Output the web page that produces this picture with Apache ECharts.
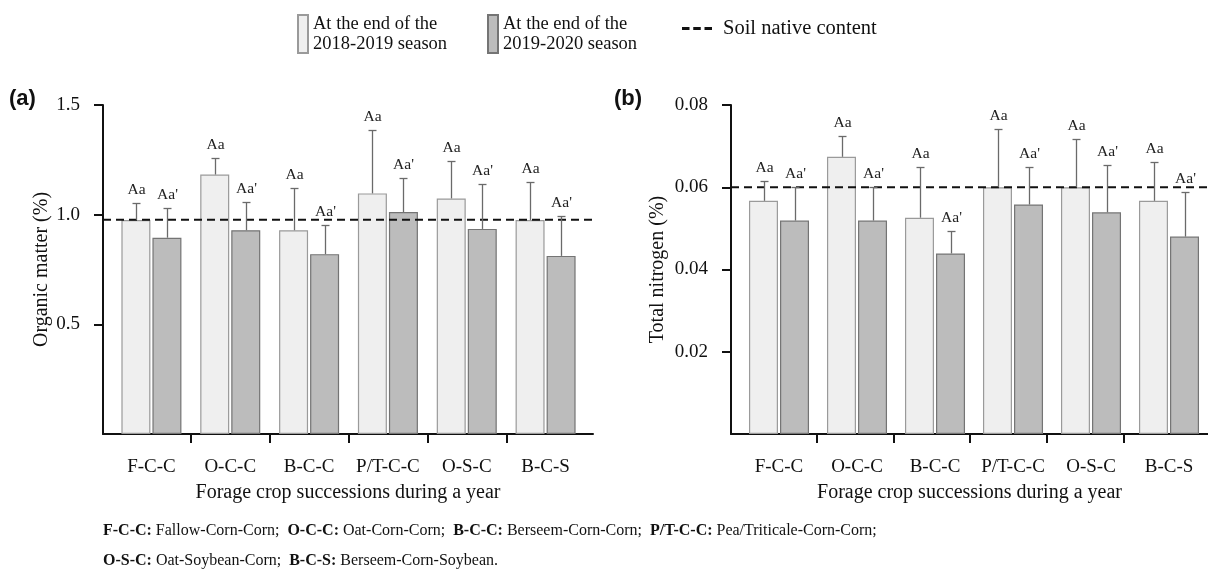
<!DOCTYPE html>
<html><head><meta charset="utf-8">
<script src="https://cdn.jsdelivr.net/npm/echarts@6/dist/echarts.min.js"></script>
<style>html,body{margin:0;padding:0;background:#fff}#c{width:1208px;height:580px}</style>
</head><body><div id="c"></div>
<script>
// ---------- data ----------
const categories = ['F-C-C', 'O-C-C', 'B-C-C', 'P/T-C-C', 'O-S-C', 'B-C-S'];
const seasonNames = ['At the end of the\n2018-2019 season', 'At the end of the\n2019-2020 season'];
const nativeName = 'Soil native content';

// (a) Organic matter (%)
const omSeason1 = [0.976, 1.183, 0.929, 1.097, 1.074, 0.976];
const omSeason1Err = [0.077, 0.076, 0.192, 0.291, 0.170, 0.173];
const omSeason2 = [0.895, 0.929, 0.820, 1.012, 0.935, 0.812];
const omSeason2Err = [0.135, 0.127, 0.133, 0.155, 0.204, 0.182];
const omNative = 0.977;
const omTicks = [0.5, 1.0, 1.5];

// (b) Total nitrogen (%)
const tnSeason1 = [0.0567, 0.0674, 0.0526, 0.0600, 0.0600, 0.0567];
const tnSeason1Err = [0.0047, 0.0051, 0.0124, 0.0141, 0.0117, 0.0094];
const tnSeason2 = [0.0519, 0.0519, 0.0439, 0.0558, 0.0539, 0.0480];
const tnSeason2Err = [0.0081, 0.0081, 0.0054, 0.0091, 0.0115, 0.0108];
const tnNative = 0.060;
const tnTicks = [0.02, 0.04, 0.06, 0.08];

const lettersSeason1 = ['Aa', 'Aa', 'Aa', 'Aa', 'Aa', 'Aa'];
const lettersSeason2 = ["Aa'", "Aa'", "Aa'", "Aa'", "Aa'", "Aa'"];

// ---------- styles ----------
const SERIF = '"Liberation Serif", "Times New Roman", serif';
const SANS = '"Liberation Sans", Arial, sans-serif';
const LIGHT = '#efefef', LIGHT_B = '#9a9a9a';
const DARK = '#bcbcbc', DARK_B = '#747474';
const BAR_W = 29, HALF = 15.5;
const xRange = [-0.115, 6.1]; // frame axis extent in category units

const chart = echarts.init(document.getElementById('c'), null, {renderer: 'canvas'});

function frameX(gridIndex, name) {
  return {
    type: 'value', gridIndex, min: xRange[0], max: xRange[1],
    name, nameLocation: 'middle', nameGap: 49,
    nameTextStyle: {fontFamily: SERIF, fontSize: 20, color: '#111'},
    axisLine: {show: true, onZero: false, lineStyle: {color: '#111', width: 2}},
    axisTick: {show: true, customValues: [1, 2, 3, 4, 5], length: 9, lineStyle: {color: '#111', width: 2}},
    axisLabel: {show: false}, splitLine: {show: false}
  };
}
function catX(gridIndex) {
  return {
    type: 'category', gridIndex, data: categories,
    axisLine: {show: false}, axisTick: {show: false},
    axisLabel: {fontFamily: SERIF, fontSize: 19, color: '#111', margin: 24, interval: 0}
  };
}
function frameY(gridIndex, max, ticks, dec, name, gap) {
  return {
    type: 'value', gridIndex, min: 0, max,
    name, nameLocation: 'middle', nameGap: gap, nameRotate: 90,
    nameTextStyle: {fontFamily: SERIF, fontSize: 20, color: '#111'},
    axisLine: {show: true, onZero: false, lineStyle: {color: '#111', width: 2}},
    axisTick: {show: true, customValues: ticks, length: 9, lineStyle: {color: '#111', width: 2}},
    axisLabel: {customValues: ticks, formatter: v => v.toFixed(dec), fontFamily: SERIF, fontSize: 19, color: '#111', margin: 23},
    splitLine: {show: false}
  };
}
function hiddenY(gridIndex, max) {
  return {type: 'value', gridIndex, min: 0, max, show: false, splitLine: {show: false}};
}
function bars(name, xi, yi, vals, color, border) {
  return {
    type: 'bar', name, xAxisIndex: xi, yAxisIndex: yi, data: vals,
    barWidth: BAR_W, barGap: '7%',
    itemStyle: {color, borderColor: border, borderWidth: 1.2},
    emphasis: {disabled: true}, z: 2
  };
}
function errs(xi, yi, vals, e, labels, side) {
  return {
    type: 'custom', name: 'err' + xi + side, xAxisIndex: xi, yAxisIndex: yi, z: 6,
    data: vals.map((v, i) => [i, v, e[i]]),
    renderItem(params, api) {
      const i = api.value(0), v = api.value(1), d = api.value(2);
      const b = api.coord([i, v]);
      const t = api.coord([i, v + d]);
      const x = Math.round(b[0] + side * HALF) + 0.5;
      const ty = Math.round(t[1]) + 0.5;
      const st = {stroke: '#6a6a6a', lineWidth: 1.3};
      return {type: 'group', children: [
        {type: 'line', shape: {x1: x, y1: b[1], x2: x, y2: ty}, style: st},
        {type: 'line', shape: {x1: x - 4, y1: ty, x2: x + 4, y2: ty}, style: st},
        {type: 'text', style: {text: labels[params.dataIndex], x: x, y: ty - 6, align: 'center', verticalAlign: 'bottom',
          font: '15.5px ' + SERIF, fill: '#222'}}
      ]};
    }
  };
}
function nativeLine(xi, yi, v) {
  return {
    type: 'line', name: nativeName, xAxisIndex: xi, yAxisIndex: yi,
    data: [[xRange[0], v], [xRange[1], v]], symbol: 'none', z: 5,
    lineStyle: {color: '#111', width: 2, type: [8, 5]}, itemStyle: {color: '#111'},
    emphasis: {disabled: true}
  };
}

const legendText = {fontFamily: SERIF, fontSize: 18.5, color: '#111', lineHeight: 20};
const option = {
  animation: false,
  backgroundColor: '#fff',
  legend: [
    {data: [seasonNames[0]], left: 297, top: 14, padding: 0, icon: 'rect', itemWidth: 10, itemHeight: 38, textStyle: legendText, selectedMode: false},
    {data: [seasonNames[1]], left: 487, top: 14, padding: 0, icon: 'rect', itemWidth: 10, itemHeight: 38, textStyle: legendText, selectedMode: false},
    {data: [{name: nativeName, icon: 'path://M0,0h8v3h-8z M12,0h8v3h-8z M24,0h8v3h-8z'}], left: 682, top: 18, padding: 0,
      itemWidth: 30, itemHeight: 3, textStyle: {fontFamily: SERIF, fontSize: 20.5, color: '#111', padding: [0, 0, 0, 6]}, selectedMode: false}
  ],
  grid: [
    {left: 112, right: 623, top: 105, bottom: 146},
    {left: 103, right: 615, top: 105, bottom: 146},
    {left: 740, right: -5, top: 105, bottom: 146},
    {left: 731, right: -13, top: 105, bottom: 146}
  ],
  xAxis: [
    catX(0),
    frameX(1, 'Forage crop successions during a year'),
    catX(2),
    frameX(3, 'Forage crop successions during a year')
  ],
  yAxis: [
    hiddenY(0, 1.5),
    frameY(1, 1.5, omTicks, 1, 'Organic matter (%)', 51),
    hiddenY(2, 0.08),
    frameY(3, 0.08, tnTicks, 2, 'Total nitrogen (%)', 63)
  ],
  series: [
    bars(seasonNames[0], 0, 0, omSeason1, LIGHT, LIGHT_B),
    bars(seasonNames[1], 0, 0, omSeason2, DARK, DARK_B),
    errs(0, 0, omSeason1, omSeason1Err, lettersSeason1, -1),
    errs(0, 0, omSeason2, omSeason2Err, lettersSeason2, 1),
    nativeLine(1, 1, omNative),
    bars(seasonNames[0], 2, 2, tnSeason1, LIGHT, LIGHT_B),
    bars(seasonNames[1], 2, 2, tnSeason2, DARK, DARK_B),
    errs(2, 2, tnSeason1, tnSeason1Err, lettersSeason1, -1),
    errs(2, 2, tnSeason2, tnSeason2Err, lettersSeason2, 1),
    nativeLine(3, 3, tnNative)
  ],
  graphic: [
    {type: 'text', left: 9, top: 88, style: {text: '(a)', font: 'bold 22px ' + SANS, fill: '#111'}},
    {type: 'text', left: 614, top: 88, style: {text: '(b)', font: 'bold 22px ' + SANS, fill: '#111'}},
    {type: 'text', left: 103, top: 523, style: {
      text: '{b|F-C-C:} Fallow-Corn-Corn;  {b|O-C-C:} Oat-Corn-Corn;  {b|B-C-C:} Berseem-Corn-Corn;  {b|P/T-C-C:} Pea/Triticale-Corn-Corn;',
      font: '16px ' + SERIF, fill: '#111', rich: {b: {fontWeight: 'bold', fontFamily: SERIF, fontSize: 16}}}},
    {type: 'text', left: 103, top: 553, style: {
      text: '{b|O-S-C:} Oat-Soybean-Corn;  {b|B-C-S:} Berseem-Corn-Soybean.',
      font: '16px ' + SERIF, fill: '#111', rich: {b: {fontWeight: 'bold', fontFamily: SERIF, fontSize: 16}}}}
  ]
};
chart.setOption(option);
</script>
</body></html>
